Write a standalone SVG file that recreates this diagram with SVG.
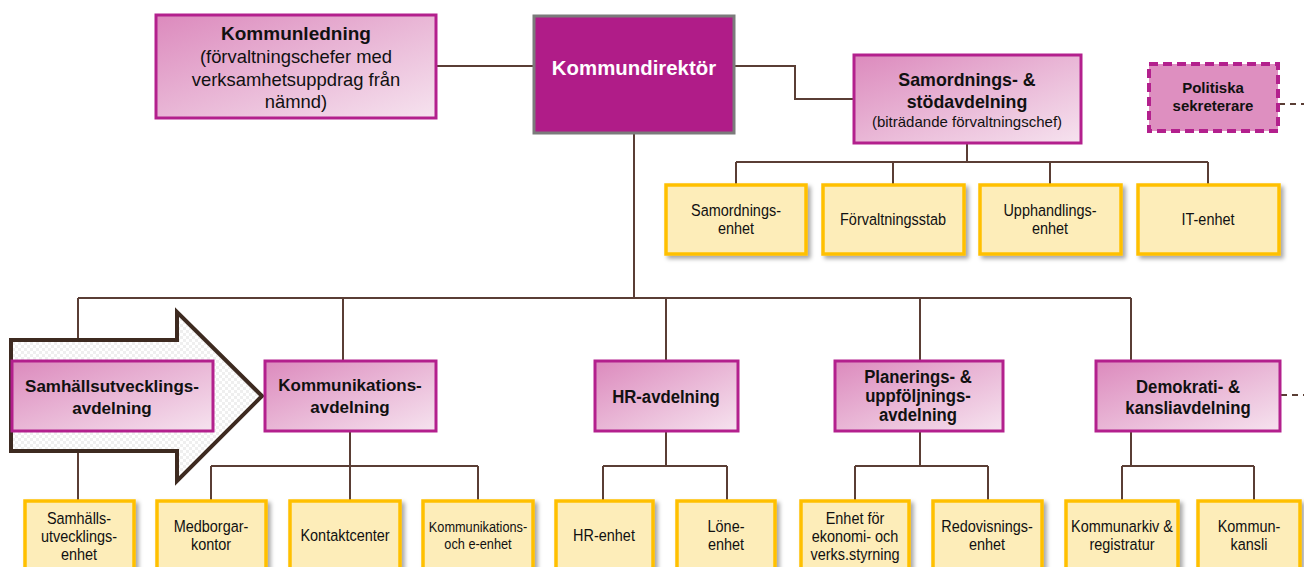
<svg xmlns="http://www.w3.org/2000/svg" width="1304" height="567" viewBox="0 0 1304 567">
<defs>
  <linearGradient id="pink" x1="0" y1="0" x2="1" y2="1">
    <stop offset="0" stop-color="#dc8abd"/>
    <stop offset="1" stop-color="#f6e3ef"/>
  </linearGradient>
  <pattern id="checks" width="6" height="6" patternUnits="userSpaceOnUse">
    <rect width="6" height="6" fill="#ffffff"/>
    <rect width="3" height="3" fill="#efefef"/>
    <rect x="3" y="3" width="3" height="3" fill="#efefef"/>
  </pattern>
  <filter id="shadow" x="-10%" y="-10%" width="130%" height="130%">
    <feDropShadow dx="3" dy="3" stdDeviation="2" flood-color="#000000" flood-opacity="0.35"/>
  </filter>
</defs>
<style>
  .conn { fill: none; stroke: #5a3e35; stroke-width: 2; }
  .dash { fill: none; stroke: #5a3e35; stroke-width: 2; stroke-dasharray: 6 5; }
  .pink { fill: url(#pink); stroke: #b3208d; stroke-width: 3; }
  .unit { fill: #fdedb9; stroke: #ffc000; stroke-width: 3.5; filter: url(#shadow); }
  .tb { font-family: "Liberation Sans", Arial, sans-serif; font-weight: bold; fill: #111111; text-anchor: middle; }
  .tr { font-family: "Liberation Sans", Arial, sans-serif; fill: #111111; text-anchor: middle; }
  .tn { font-family: "Liberation Sans", Arial, sans-serif; fill: #111111; text-anchor: middle; font-size: 17px; }
  .tns { font-family: "Liberation Sans", Arial, sans-serif; fill: #111111; text-anchor: middle; font-size: 15px; }
  .tnb { font-family: "Liberation Sans", Arial, sans-serif; font-weight: bold; fill: #111111; text-anchor: middle; font-size: 19px; }
</style>

<g id="connectors">
  <path class="conn" d="M436,66 H533"/>
  <path class="conn" d="M735,66 H795 V99 H853"/>
  <path class="conn" d="M967,143 V162 M736,162 H1208 M736,162 V184 M893,162 V184 M1050,162 V184 M1208,162 V184"/>
  <path class="conn" d="M634,133 V298 M78,298 H1131 M78,298 V340 M343,298 V360 M666,298 V360 M920,298 V360 M1131,298 V360"/>
  <path class="conn" d="M78,451 V500"/>
  <path class="conn" d="M350,432 V500 M211,466 H478 M211,466 V500 M478,466 V500"/>
  <path class="conn" d="M666,432 V466 M603,466 H727 M603,466 V500 M727,466 V500"/>
  <path class="conn" d="M920,432 V466 M855,466 H988 M855,466 V500 M988,466 V500"/>
  <path class="conn" d="M1131,432 V466 M1122,466 H1254 M1122,466 V500 M1254,466 V500"/>
  <path class="dash" d="M1279,104 H1304"/>
  <path class="dash" d="M1281,395 H1304"/>
</g>

<g id="arrow">
  <path d="M11,340 H177 V312 L262,396 L177,481 V451 H11 Z" fill="url(#checks)" stroke="#3d2a20" stroke-width="4" stroke-linejoin="miter"/>
</g>

<g id="kommunledning">
  <rect class="pink" x="156" y="15" width="280" height="103"/>
  <text class="tb" x="296" y="40" font-size="19px">Kommunledning</text>
  <text class="tr" x="296" y="63" font-size="18.4px">(förvaltningschefer med</text>
  <text class="tr" x="296" y="86" font-size="18.4px">verksamhetsuppdrag från</text>
  <text class="tr" x="296" y="108" font-size="18.4px">nämnd)</text>
</g>

<g id="kommundirektor">
  <rect x="534" y="16" width="200" height="117" fill="#b01c88" stroke="#7b7b7b" stroke-width="3"/>
  <text class="tb" x="634" y="75" font-size="20.4px" style="fill:#ffffff">Kommundirektör</text>
</g>

<g id="samordnings">
  <rect class="pink" x="854" y="55" width="227" height="88"/>
  <text class="tb" x="967" y="86" font-size="17.8px">Samordnings- &amp;</text>
  <text class="tb" x="967" y="108" font-size="17.8px">stödavdelning</text>
  <text class="tr" x="967" y="127" font-size="15px">(biträdande förvaltningschef)</text>
</g>

<g id="politiska">
  <rect x="1149" y="64" width="129" height="67" fill="#de8fc0" stroke="#b3208d" stroke-width="4" stroke-dasharray="9 5"/>
  <text class="tb" x="1213" y="93" font-size="15px">Politiska</text>
  <text class="tb" x="1213" y="111" font-size="15px">sekreterare</text>
</g>

<g id="samordningsenhet">
  <rect class="unit" x="666" y="185" width="140" height="69"/>
  <text class="tn" transform="translate(736,216) scale(0.85,1)">Samordnings-</text>
  <text class="tn" transform="translate(736,234) scale(0.85,1)">enhet</text>
</g>
<g id="forvaltningsstab">
  <rect class="unit" x="823" y="185" width="141" height="69"/>
  <text class="tn" transform="translate(893,225) scale(0.85,1)">Förvaltningsstab</text>
</g>
<g id="upphandlingsenhet">
  <rect class="unit" x="980" y="185" width="141" height="69"/>
  <text class="tn" transform="translate(1050,216) scale(0.85,1)">Upphandlings-</text>
  <text class="tn" transform="translate(1050,234) scale(0.85,1)">enhet</text>
</g>
<g id="itenhet">
  <rect class="unit" x="1138" y="185" width="141" height="69"/>
  <text class="tn" transform="translate(1208,225) scale(0.85,1)">IT-enhet</text>
</g>

<g id="samhallsutvecklingsavdelning">
  <rect class="pink" x="12" y="361" width="201" height="70"/>
  <text class="tb" x="112" y="392" font-size="17px">Samhällsutvecklings-</text>
  <text class="tb" x="112" y="414" font-size="17px">avdelning</text>
</g>
<g id="kommunikationsavdelning">
  <rect class="pink" x="265" y="361" width="171" height="70"/>
  <text class="tb" x="350" y="391" font-size="17px">Kommunikations-</text>
  <text class="tb" x="350" y="413" font-size="17px">avdelning</text>
</g>
<g id="hravdelning">
  <rect class="pink" x="595" y="361" width="143" height="70"/>
  <text class="tnb" transform="translate(666,403) scale(0.88,1)">HR-avdelning</text>
</g>
<g id="planeringsavdelning">
  <rect class="pink" x="835" y="361" width="168" height="70"/>
  <text class="tnb" transform="translate(918,383) scale(0.88,1)">Planerings- &amp;</text>
  <text class="tnb" transform="translate(918,402) scale(0.88,1)">uppföljnings-</text>
  <text class="tnb" transform="translate(918,421) scale(0.88,1)">avdelning</text>
</g>
<g id="demokratiavdelning">
  <rect class="pink" x="1096" y="361" width="184" height="70"/>
  <text class="tnb" transform="translate(1188,393) scale(0.88,1)">Demokrati- &amp;</text>
  <text class="tnb" transform="translate(1188,414) scale(0.88,1)">kansliavdelning</text>
</g>

<g id="samhallsutvecklingsenhet">
  <rect class="unit" x="25" y="501" width="109" height="80"/>
  <text class="tn" transform="translate(79,524) scale(0.85,1)">Samhälls-</text>
  <text class="tn" transform="translate(79,542) scale(0.85,1)">utvecklings-</text>
  <text class="tn" transform="translate(79,560) scale(0.85,1)">enhet</text>
</g>
<g id="medborgarkontor">
  <rect class="unit" x="157" y="501" width="109" height="80"/>
  <text class="tn" transform="translate(211,532) scale(0.85,1)">Medborgar-</text>
  <text class="tn" transform="translate(211,550) scale(0.85,1)">kontor</text>
</g>
<g id="kontaktcenter">
  <rect class="unit" x="290" y="501" width="110" height="80"/>
  <text class="tn" transform="translate(345,541) scale(0.85,1)">Kontaktcenter</text>
</g>
<g id="kommunikationsenhet">
  <rect class="unit" x="423" y="501" width="110" height="80"/>
  <text class="tns" transform="translate(478,532) scale(0.85,1)">Kommunikations-</text>
  <text class="tns" transform="translate(478,549) scale(0.85,1)">och e-enhet</text>
</g>
<g id="hrenhet">
  <rect class="unit" x="556" y="501" width="97" height="80"/>
  <text class="tn" transform="translate(604,541) scale(0.85,1)">HR-enhet</text>
</g>
<g id="loneenhet">
  <rect class="unit" x="677" y="501" width="98" height="80"/>
  <text class="tn" transform="translate(726,532) scale(0.85,1)">Löne-</text>
  <text class="tn" transform="translate(726,550) scale(0.85,1)">enhet</text>
</g>
<g id="ekonomienhet">
  <rect class="unit" x="801" y="501" width="108" height="80"/>
  <text class="tn" transform="translate(855,524) scale(0.85,1)">Enhet för</text>
  <text class="tn" transform="translate(855,542) scale(0.85,1)">ekonomi- och</text>
  <text class="tn" transform="translate(855,560) scale(0.85,1)">verks.styrning</text>
</g>
<g id="redovisningsenhet">
  <rect class="unit" x="933" y="501" width="109" height="80"/>
  <text class="tn" transform="translate(987,532) scale(0.85,1)">Redovisnings-</text>
  <text class="tn" transform="translate(987,550) scale(0.85,1)">enhet</text>
</g>
<g id="kommunarkiv">
  <rect class="unit" x="1066" y="501" width="112" height="80"/>
  <text class="tn" transform="translate(1122,532) scale(0.85,1)">Kommunarkiv &amp;</text>
  <text class="tn" transform="translate(1122,550) scale(0.85,1)">registratur</text>
</g>
<g id="kommunkansli">
  <rect class="unit" x="1198" y="501" width="102" height="80"/>
  <text class="tn" transform="translate(1249,532) scale(0.85,1)">Kommun-</text>
  <text class="tn" transform="translate(1249,550) scale(0.85,1)">kansli</text>
</g>
</svg>
